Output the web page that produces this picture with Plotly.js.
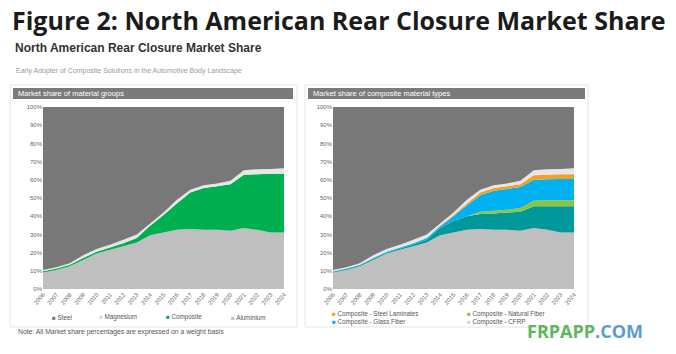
<!DOCTYPE html>
<html><head><meta charset="utf-8">
<script src="https://cdn.plot.ly/plotly-3.0.1.min.js"></script>
<style>html,body{margin:0;padding:0;background:#fff}#c{width:676px;height:354px}</style>
</head><body><div id="c"></div>
<script>
const years = [2006,2007,2008,2009,2010,2011,2012,2013,2014,2015,2016,2017,2018,2019,2020,2021,2022,2023,2024];
const tickLabels = years.map(String);
// Left panel: market share of material groups (%)
const aluminium = [9,10.5,12.5,16,19.5,21.5,23.5,25.5,29.5,31,32.5,33,32.5,32.5,32,33.5,32.5,31,31];
const composite = [0.8,0.8,0.8,1.0,1.0,1.3,1.7,2.5,5.3,9.7,14.5,20,23,24,25.5,29.3,30.6,32.3,32.3];
const magnesium = [0.7,0.7,0.9,1.5,1.5,1.5,1.8,2.0,1.2,1.3,2.0,1.5,1.5,1.5,2.0,2.5,2.7,2.7,3.0];
const steel = [89.5,88,85.8,81.5,78,75.7,73,70,64,58,51,45.5,43,42,40.5,34.7,34.2,34,33.7];
// Right panel: composite material types (%)
const compOther = [0.5,0.5,0.5,0.6,0.6,0.8,1.0,1.5,4,6.5,7.5,8.2,9,9.5,10.5,12,13,14.5,14.5];
const compNatural = [0,0,0,0,0,0,0,0,0,0,0,1.3,1.5,1.5,2,3,3.2,3.2,3.2];
const compGlass = [0.3,0.3,0.3,0.4,0.4,0.5,0.7,1.0,1,2.5,6,9,11,11.5,11.5,11.5,11.6,11.7,11.8];
const compSteelLam = [0,0,0,0,0,0,0,0,0.3,0.7,1,1.5,1.5,1.5,1.5,2.5,2.5,2.6,2.5];
const compCFRP = [0,0,0,0,0,0,0,0,0,0,0,0,0,0,0,0.3,0.3,0.3,0.3];

const leftLegend = ['Steel','Magnesium','Composite','Aluminium'];
const rightLegend = ['Composite - Steel Laminates','Composite - Glass Fiber','Composite - Natural Fiber','Composite - CFRP'];

const C = {steel:'#787878', al:'#bfbfbf', mg:'#e6e6e6', comp:'#00b050', teal:'#00989a', nat:'#8cc63f', glass:'#00b0f0', lam:'#f5a01e', cfrp:'#d6d6d6'};

function area(name, y, color, xa, ya, grp){
  return {type:'scatter', mode:'none', x:years, y:y, name:name, stackgroup:grp,
    fillcolor:color, line:{width:0}, xaxis:xa, yaxis:ya, showlegend:false, hoverinfo:'skip'};
}
const data = [
  area('Aluminium', aluminium, C.al, 'x','y','L'),
  area('Composite', composite, C.comp, 'x','y','L'),
  area('Magnesium', magnesium, C.mg, 'x','y','L'),
  area('Steel', steel, C.steel, 'x','y','L'),
  area('Aluminium', aluminium, C.al, 'x2','y2','R'),
  area('Composite - Other', compOther, C.teal, 'x2','y2','R'),
  area('Composite - Natural Fiber', compNatural, C.nat, 'x2','y2','R'),
  area('Composite - Glass Fiber', compGlass, C.glass, 'x2','y2','R'),
  area('Composite - Steel Laminates', compSteelLam, C.lam, 'x2','y2','R'),
  area('Composite - CFRP', compCFRP, C.cfrp, 'x2','y2','R'),
  area('Magnesium', magnesium, C.mg, 'x2','y2','R'),
  area('Steel', steel, C.steel, 'x2','y2','R')
];
const W=676,H=354;
const px = v=>v/W, py = v=>1-v/H;
const tickF = {family:'Liberation Sans, Arial', size:6, color:'#666'};
const xaxisBase = {type:'linear', range:[2006,2024], tickmode:'array', tickvals:years, ticktext:tickLabels,
  tickangle:-50, tickfont:tickF, showgrid:false, zeroline:false, showline:false, ticks:'', fixedrange:true};
const yaxisBase = {range:[0,100], tickvals:[0,10,20,30,40,50,60,70,80,90,100],
  ticktext:['0%','10%','20%','30%','40%','50%','60%','70%','80%','90%','100%'],
  tickfont:tickF, showgrid:false, zeroline:false, showline:false, ticks:'', fixedrange:true};

function ann(text, x, y, size, color, family){
  return {text:text, xref:'paper', yref:'paper', x:px(x), y:py(y), xanchor:'left', yanchor:'middle', showarrow:false,
    font:{family:family||'Liberation Sans, Arial', size:size, color:color}};
}
function legItem(label, color, x, y){
  return ann('<span style="color:'+color+'">■</span> '+label, x, y, 6.3, '#555');
}
const annotations = [
  ann('<b>Figure 2: North American Rear Closure Market Share</b>', 10, 20, 25, '#1b1b1b', 'Open Sans'),
  ann('<b>North American Rear Closure Market Share</b>', 13, 48, 12, '#333'),
  ann('Early Adopter of Composite Solutions in the Automotive Body Landscape', 14, 71, 7, '#9a9a9a'),
  ann('Market share of material groups', 16, 93.5, 7.5, '#ffffff'),
  ann('Market share of composite material types', 311, 93.5, 7.5, '#ffffff'),
  ann('Note: All Market share percentages are expressed on a weight basis', 16, 332, 6.8, '#555'),
  legItem(leftLegend[0], C.steel, 50, 317),
  legItem(leftLegend[1], '#d9d9d9', 97, 317),
  legItem(leftLegend[2], C.comp, 164, 317),
  legItem(leftLegend[3], C.al, 229, 317),
  legItem(rightLegend[0], C.lam, 330, 314),
  legItem(rightLegend[1], C.glass, 330, 321.5),
  legItem(rightLegend[2], C.nat, 465, 314),
  legItem(rightLegend[3], C.cfrp, 465, 321.5),
  ann('<b><span style="color:#5cb85c">FRPAPP</span><span style="color:#5b9bd5">.COM</span></b>', 525, 331, 18, '#5cb85c', 'Open Sans')
];
const layout = {
  width:W, height:H, margin:{l:0,r:0,t:0,b:0}, paper_bgcolor:'#fff', plot_bgcolor:'#fff', showlegend:false,
  xaxis:Object.assign({}, xaxisBase, {domain:[px(43),px(284)], anchor:'y'}),
  yaxis:Object.assign({}, yaxisBase, {domain:[1-289/H,1-107/H], anchor:'x'}),
  xaxis2:Object.assign({}, xaxisBase, {domain:[px(333),px(574)], anchor:'y2'}),
  yaxis2:Object.assign({}, yaxisBase, {domain:[1-289/H,1-107/H], anchor:'x2'}),
  shapes:[
    {type:'rect', xref:'paper', yref:'paper', x0:px(10), x1:px(297), y0:py(327), y1:py(85), line:{color:'#e4e4e4', width:1}, fillcolor:'rgba(0,0,0,0)', layer:'below'},
    {type:'rect', xref:'paper', yref:'paper', x0:px(305), x1:px(588), y0:py(327), y1:py(85), line:{color:'#e4e4e4', width:1}, fillcolor:'rgba(0,0,0,0)', layer:'below'},
    {type:'rect', xref:'paper', yref:'paper', x0:px(13), x1:px(293), y0:py(99), y1:py(88), line:{width:0}, fillcolor:'#7b7b7b'},
    {type:'rect', xref:'paper', yref:'paper', x0:px(308), x1:px(585), y0:py(99), y1:py(88), line:{width:0}, fillcolor:'#7b7b7b'}
  ],
  annotations:annotations
};
Plotly.newPlot('c', data, layout, {displayModeBar:false, staticPlot:true});
</script></body></html>
